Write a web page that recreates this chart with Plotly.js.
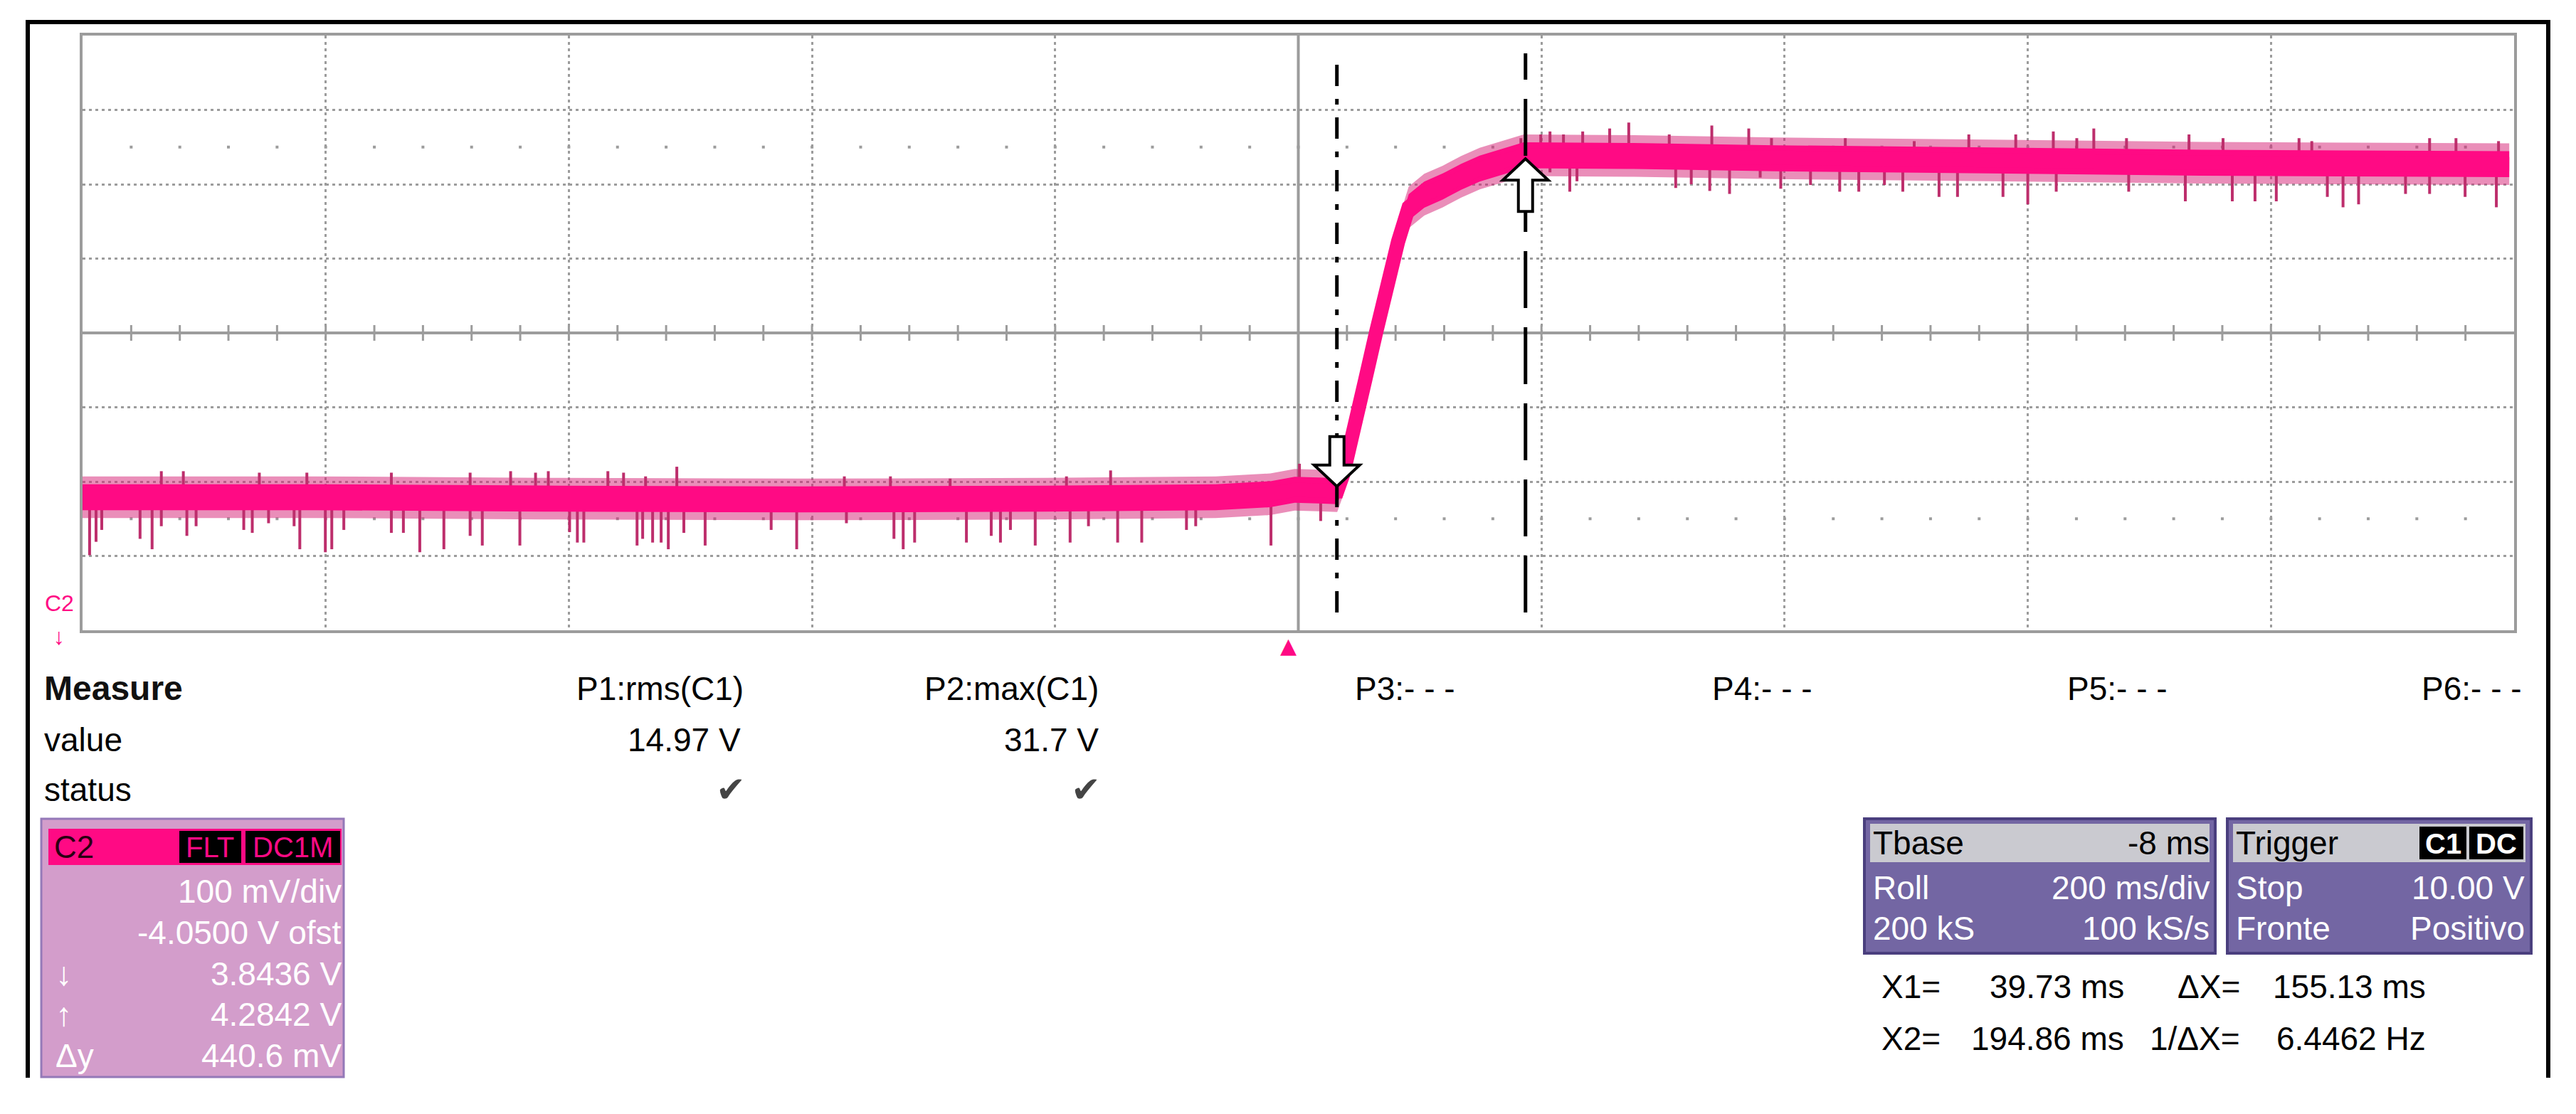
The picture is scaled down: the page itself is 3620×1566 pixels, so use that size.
<!DOCTYPE html>
<html>
<head>
<meta charset="utf-8">
<script src="https://cdn.plot.ly/plotly-3.0.1.min.js"></script>
<style>html,body{margin:0;padding:0;background:#fff;}</style>
</head>
<body>
<div id="scope" style="width:3620px;height:1566px;"></div>
<script>
// C2 trace, time in ms (200 ms/div, Tbase -8 ms), volts (100 mV/div, -4.05 V ofst)
const traceT = [-992, -800, -600, -400, -200, -60, -15, 5, 25, 40, 45, 54.4, 63.2, 72, 81.3, 90.1,
  98.8, 111.6, 126.8, 142, 157.2, 178.8, 193.4, 284, 400, 576, 751, 868, 1004];
const traceV = [3.829, 3.829, 3.827, 3.826, 3.827, 3.829, 3.833, 3.839, 3.838, 3.837, 3.860, 3.918,
  3.988, 4.051, 4.121, 4.173, 4.219, 4.236, 4.247, 4.260, 4.271, 4.282, 4.289, 4.288, 4.285,
  4.282, 4.279, 4.278, 4.277];

// glitches sticking out of the noise band (tip time, tip voltage)
const spikeT = [-986.2, -980.9, -976.2, -944.7, -934.8, -927.2, -906.2, -898.6, -859.4, -852.4,
  -839.0, -818.0, -813.3, -792.3, -787.0, -777.1, -738.0, -728.1, -714.6, -694.8, -673.2, -663.2,
  -632.3, -591.4, -585.0, -579.7, -535.9, -531.3, -523.1, -516.1, -510.2, -497.4, -479.9, -425.6,
  -404.6, -363.7, -324.6, -317.0, -307.6, -265.0, -244.6, -237.0, -228.8, -208.4, -179.7, -164.6,
  -140.6, -120.8, -84.0, -76.4, -14.5, 26.4,
  -927.2, -909.1, -846.6, -807.5, -738.0, -673.2, -639.9, -619.4, -608.9, -559.9, -547.0, -528.9,
  -503.2, -365.4, -327.5, -278.4, -182.7, -146.4, 8.9,
  191.1, 207.4, 215.0, 226.1, 241.9, 264.1, 279.8, 313.1, 348.1, 378.5, 397.2, 457.9, 514.6, 559.5,
  598.1, 629.0, 648.3, 662.3, 689.2, 740.6, 768.6, 831.1, 841.6, 938.5, 960.2, 995.2,
  215.0, 231.3, 237.2, 318.4, 331.2, 346.4, 362.7, 387.9, 404.8, 429.3, 453.3, 469.0, 490.1, 505.2,
  535.0, 550.2, 587.6, 608.0, 631.4, 691.0, 737.6, 776.2, 794.9, 812.4, 854.4, 867.3, 880.1, 918.7,
  938.5, 967.7, 993.4];
const spikeV = [3.751, 3.769, 3.785, 3.773, 3.759, 3.790, 3.777, 3.790, 3.785, 3.781,
  3.794, 3.790, 3.759, 3.755, 3.759, 3.785, 3.781, 3.781, 3.755, 3.759, 3.777, 3.764,
  3.764, 3.782, 3.768, 3.768, 3.764, 3.773, 3.768, 3.768, 3.759, 3.781, 3.764, 3.785,
  3.759, 3.794, 3.773, 3.759, 3.768, 3.768, 3.777, 3.768, 3.785, 3.764, 3.768, 3.790,
  3.768, 3.768, 3.785, 3.790, 3.764, 3.797,
  3.864, 3.864, 3.862, 3.862, 3.862, 3.862, 3.864, 3.862, 3.864, 3.864, 3.862, 3.857,
  3.870, 3.857, 3.857, 3.854, 3.857, 3.865, 3.874,
  4.312, 4.317, 4.321, 4.317, 4.321, 4.325, 4.333, 4.317, 4.329, 4.325, 4.312, 4.312, 4.308, 4.317,
  4.317, 4.321, 4.312, 4.325, 4.312, 4.317, 4.312, 4.312, 4.308, 4.312, 4.312, 4.308,
  4.266, 4.240, 4.254, 4.245, 4.250, 4.241, 4.237, 4.259, 4.244, 4.249, 4.240, 4.240, 4.249, 4.240,
  4.233, 4.233, 4.233, 4.223, 4.240, 4.240, 4.227, 4.227, 4.227, 4.227, 4.233, 4.219, 4.223, 4.237,
  4.237, 4.233, 4.219];

const cursorX = [39.73, 194.86];
const cursorY = [3.8436, 4.2842];
const triggerT = 0;

const xRange = [-992, 1008];
const yRange = [3.65, 4.45];

const measureNames = ['P1:rms(C1)', 'P2:max(C1)', 'P3:- - -', 'P4:- - -', 'P5:- - -', 'P6:- - -'];
const measureValues = ['14.97 V', '31.7 V'];
const c2Rows = [['', '100 mV/div'], ['', '-4.0500 V ofst'], ['\u2193', '3.8436 V'], ['\u2191', '4.2842 V'], ['\u0394y', '440.6 mV']];
const tbaseRows = [['Tbase', '-8 ms'], ['Roll', '200 ms/div'], ['200 kS', '100 kS/s']];
const trigRows = [['Trigger', ''], ['Stop', '10.00 V'], ['Fronte', 'Positivo']];
const cursorText = [['X1=', '39.73 ms', '\u0394X=', '155.13 ms'], ['X2=', '194.86 ms', '1/\u0394X=', '6.4462 Hz']];

const PINK = '#ff0a84';
const GRID = '#9c9c9c';
const FONT = 'Liberation Sans, Arial, DejaVu Sans, sans-serif';
const HALF = 0.0175;   // half height of the solid noise band
const FUZZ = 0.028;

// figure pixel -> paper helpers (plot area 116..3533 x 50..886)
const L = 116, R = 3533, T = 50, B = 886;
const px = X => (X - L) / (R - L);
const py = Y => (B - Y) / (B - T);

function centerAt(t) {
  for (let i = 1; i < traceT.length; i++) {
    if (t <= traceT[i]) {
      const f = (t - traceT[i - 1]) / (traceT[i] - traceT[i - 1]);
      return traceV[i - 1] + f * (traceV[i] - traceV[i - 1]);
    }
  }
  return traceV[traceV.length - 1];
}

// graticule dot rows at +/-2.5 div, 1/5 div spacing
const dotT = [], dotV = [];
for (let k = 1; k < 50; k++) {
  dotT.push(xRange[0] + k * 40, xRange[0] + k * 40);
  dotV.push(4.30, 3.80);
}

const sx = [], sy = [];
spikeT.forEach((t, i) => { sx.push(t, t, null); sy.push(spikeV[i], centerAt(t), null); });

const traces = [
  {x: dotT, y: dotV, mode: 'markers', marker: {symbol: 'square', size: 4, color: GRID}, hoverinfo: 'skip'},
  {x: traceT, y: traceV.map(v => v - FUZZ), mode: 'lines', line: {width: 0, color: PINK}, hoverinfo: 'skip'},
  {x: traceT, y: traceV.map(v => v + FUZZ), mode: 'lines', line: {width: 0, color: PINK}, fill: 'tonexty',
    fillcolor: 'rgba(214,30,115,0.5)', hoverinfo: 'skip'},
  {x: sx, y: sy, mode: 'lines', line: {width: 4, color: '#bd2e6c'}, hoverinfo: 'skip'},
  {x: traceT, y: traceV.map(v => v - HALF), mode: 'lines', line: {width: 0, color: PINK}, hoverinfo: 'skip'},
  {x: traceT, y: traceV.map(v => v + HALF), mode: 'lines', line: {width: 0, color: PINK}, fill: 'tonexty',
    fillcolor: PINK, hoverinfo: 'skip'},
  {x: traceT, y: traceV, mode: 'lines', line: {width: 20, color: PINK}, hoverinfo: 'skip'}
];

const shapes = [];
const xMid = (xRange[0] + xRange[1]) / 2, yMid = (yRange[0] + yRange[1]) / 2;
shapes.push({type: 'line', xref: 'x', yref: 'y', x0: xRange[0], x1: xRange[1], y0: yMid, y1: yMid, layer: 'below', line: {color: GRID, width: 4}});
shapes.push({type: 'line', xref: 'x', yref: 'y', x0: xMid, x1: xMid, y0: yRange[0], y1: yRange[1], layer: 'below', line: {color: GRID, width: 4}});
for (let k = 1; k < 50; k++) {
  shapes.push({type: 'line', xref: 'x', yref: 'y', ysizemode: 'pixel', yanchor: yMid, x0: xRange[0] + k * 40, x1: xRange[0] + k * 40,
    y0: -11, y1: 11, layer: 'below', line: {color: GRID, width: 3}});
}
// cursors
shapes.push({type: 'line', xref: 'x', yref: 'paper', x0: cursorX[0], x1: cursorX[0], y0: 0.03, y1: 0.97, line: {color: '#000', width: 5, dash: '30px,18px,8px,18px'}});
shapes.push({type: 'line', xref: 'x', yref: 'paper', x0: cursorX[1], x1: cursorX[1], y0: 0.03, y1: 0.97, line: {color: '#000', width: 5, dash: '80px,27px'}});
shapes.push({type: 'path', xref: 'x', yref: 'y', xsizemode: 'pixel', ysizemode: 'pixel', xanchor: cursorX[0], yanchor: cursorY[0],
  path: 'M0,0 L-32,30 L-10,30 L-10,70 L10,70 L10,30 L32,30 Z', fillcolor: '#fff', line: {color: '#000', width: 4}});
shapes.push({type: 'path', xref: 'x', yref: 'y', xsizemode: 'pixel', ysizemode: 'pixel', xanchor: cursorX[1], yanchor: cursorY[1],
  path: 'M0,0 L-32,-30 L-10,-30 L-10,-74 L10,-74 L10,-30 L32,-30 Z', fillcolor: '#fff', line: {color: '#000', width: 4}});

function rect(x0, y0, x1, y1, fill, line, lw) {
  shapes.push({type: 'rect', xref: 'paper', yref: 'paper', x0: px(x0), x1: px(x1), y0: py(y1), y1: py(y0),
    fillcolor: fill, line: {color: line || fill, width: lw || 0}, layer: 'above'});
}
// outer frame
shapes.push({type: 'path', xref: 'paper', yref: 'paper',
  path: 'M' + px(39) + ',' + py(1515) + ' L' + px(39) + ',' + py(31) + ' L' + px(3581) + ',' + py(31) + ' L' + px(3581) + ',' + py(1515),
  line: {color: '#000', width: 6}});
// C2 box
rect(58, 1151, 483, 1514, '#d39dcb', '#9479b8', 3);
rect(68, 1165, 480, 1216, PINK);
rect(252, 1168, 339, 1213, '#000');
rect(345, 1168, 478, 1213, '#000');
// Tbase / Trigger boxes
rect(2620, 1151, 3113, 1340, '#7366a3', '#4a3f7e', 4);
rect(2628, 1158, 3105, 1212, '#cacad0');
rect(3130, 1151, 3557, 1340, '#7366a3', '#4a3f7e', 4);
rect(3138, 1158, 3549, 1212, '#cacad0');
rect(3400, 1162, 3466, 1208, '#000');
rect(3470, 1162, 3546, 1208, '#000');

const ann = [];
function txt(X, Y, s, anchor, size, color, bold) {
  ann.push({xref: 'paper', yref: 'paper', x: px(X), y: py(Y), text: bold ? '<b>' + s + '</b>' : s, showarrow: false,
    xanchor: anchor, yanchor: 'middle', font: {family: FONT, size: size, color: color || '#000'}});
}
txt(60, 968, 'Measure', 'left', 48, '#111', true);
txt(60, 1040, 'value', 'left', 46);
txt(60, 1110, 'status', 'left', 46);
txt(1047, 968, measureNames[0], 'right', 46);
txt(1546, 968, measureNames[1], 'right', 46);
txt(1902, 968, measureNames[2], 'left', 46);
txt(2404, 968, measureNames[3], 'left', 46);
txt(2903, 968, measureNames[4], 'left', 46);
txt(3401, 968, measureNames[5], 'left', 46);
txt(1043, 1040, measureValues[0], 'right', 46);
txt(1546, 1040, measureValues[1], 'right', 46);
txt(1050, 1110, '\u2714', 'right', 50, '#444');
txt(1549, 1110, '\u2714', 'right', 50, '#444');

txt(74, 1190, 'C2', 'left', 44, '#2a0012');
txt(295, 1191, 'FLT', 'center', 40, PINK);
txt(411, 1191, 'DC1M', 'center', 40, PINK);
c2Rows.forEach((r, i) => {
  const Y = 1253 + i * 57.8;
  if (r[0]) txt(76, Y, r[0], 'left', 46, '#fff');
  txt(482, Y, r[1], 'right', 46, '#fff');
});

tbaseRows.forEach((r, i) => {
  const Y = [1185, 1248, 1305][i];
  const c = i === 0 ? '#000' : '#fff';
  txt(2630, Y, r[0], 'left', 46, c);
  txt(3107, Y, r[1], 'right', 46, c);
  txt(3140, Y, trigRows[i][0], 'left', 46, c);
  if (trigRows[i][1]) txt(3550, Y, trigRows[i][1], 'right', 46, c);
});
txt(3433, 1186, 'C1', 'center', 40, '#fff', true);
txt(3508, 1186, 'DC', 'center', 40, '#fff', true);

cursorText.forEach((r, i) => {
  const Y = 1387 + i * 73;
  txt(2642, Y, r[0], 'left', 46);
  txt(2987, Y, r[1], 'right', 46);
  txt(3150, Y, r[2], 'right', 46);
  txt(3411, Y, r[3], 'right', 46);
});

// channel marker and trigger marker
txt(83, 848, 'C2', 'center', 32, PINK);
txt(83, 895, '\u2193', 'center', 32, PINK, true);
ann.push({xref: 'x', yref: 'paper', x: triggerT, y: py(907), text: '\u25B2', showarrow: false, xanchor: 'center', yanchor: 'middle',
  font: {family: 'DejaVu Sans', size: 30, color: PINK}});

const layout = {
  width: 3620, height: 1566,
  margin: {l: L, r: 3620 - R, t: T, b: 1566 - B},
  paper_bgcolor: '#fff', plot_bgcolor: '#fff',
  showlegend: false,
  xaxis: {range: xRange, tickmode: 'linear', tick0: xRange[0], dtick: 200, showticklabels: false, ticks: '',
    showgrid: true, gridcolor: GRID, gridwidth: 3, griddash: '4px,5px', zeroline: false,
    showline: true, mirror: true, linecolor: GRID, linewidth: 4, fixedrange: true},
  yaxis: {range: yRange, tickmode: 'linear', tick0: yRange[0], dtick: 0.1, showticklabels: false, ticks: '',
    showgrid: true, gridcolor: GRID, gridwidth: 3, griddash: '4px,5px', zeroline: false,
    showline: true, mirror: true, linecolor: GRID, linewidth: 4, fixedrange: true},
  shapes: shapes,
  annotations: ann
};

Plotly.newPlot('scope', traces, layout, {displayModeBar: false, staticPlot: true});
</script>
</body>
</html>
